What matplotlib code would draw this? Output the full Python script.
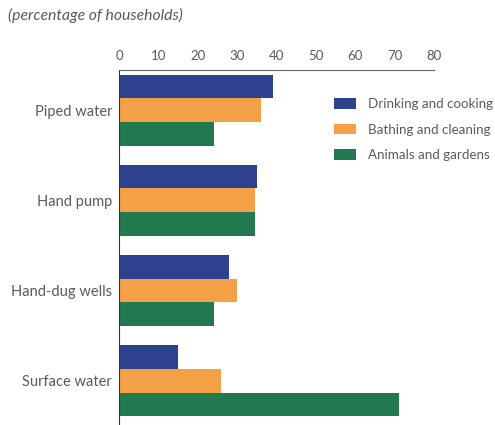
import matplotlib.pyplot as plt
import numpy as np

sources = ["Piped water", "Hand pump", "Hand-dug wells", "Surface water"]
uses = ["Drinking and cooking", "Bathing and cleaning", "Animals and gardens"]
drinking = [39, 35, 28, 15]
bathing = [36, 34.5, 30, 26]
animals = [24, 34.5, 24, 71]
ticks = [0, 10, 20, 30, 40, 50, 60, 70, 80]

colors = ["#2d418f", "#f4a047", "#23794f"]
txt = "#5a5a5a"
plt.rcParams['font.family'] = ['Lato', 'DejaVu Sans']

fig = plt.figure(figsize=(4.95, 4.25), dpi=100)
ax = fig.add_axes([119 / 495, 0, 315 / 495, 1 - 70 / 425])

y = np.arange(len(sources))
h = 0.262
for k, vals in enumerate([drinking, bathing, animals]):
    ax.barh(y + (k - 1) * h, vals, height=h, color=colors[k], label=uses[k])

ax.set_xlim(0, 80)
ax.set_ylim(3.49, -0.444)
ax.xaxis.tick_top()
ax.set_xticks(ticks)
ax.set_xticklabels([str(t) for t in ticks], color=txt, fontsize=9.5)
ax.tick_params(axis='x', length=0, pad=6)
ax.set_yticks(y)
ax.set_yticklabels(sources, color=txt, fontsize=10.5)
ax.tick_params(axis='y', length=0, pad=5)
ax.spines['right'].set_visible(False)
ax.spines['bottom'].set_visible(False)
ax.spines['top'].set_color("#666666")
ax.spines['left'].set_color("#333333")

leg = ax.legend(loc='upper left', bbox_to_anchor=(0.667, 0.935), frameon=False,
                fontsize=9.6, handlelength=1.6, handleheight=0.85,
                labelspacing=1.0, handletextpad=0.9, borderaxespad=0)
for t in leg.get_texts():
    t.set_color(txt)

fig.text(8 / 495, 1 - 15 / 425, "(percentage of households)", style='italic',
         color=txt, fontsize=11.3, va='center')

fig.savefig("out.png", dpi=100)
